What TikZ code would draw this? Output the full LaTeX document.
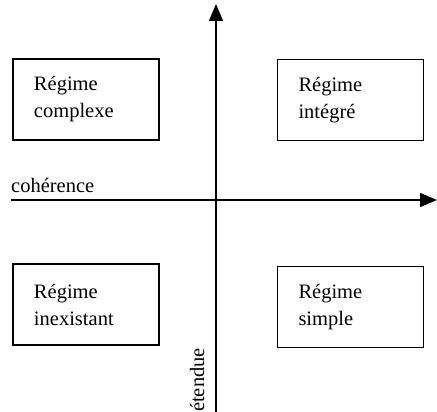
\documentclass[tikz,border=0pt]{standalone}
\usepackage{fontspec}
\setmainfont{Liberation Serif}
\usetikzlibrary{arrows.meta}
\tikzset{
  regime/.style={draw, line width=1.4pt, rectangle, align=left, text width=104pt,
    inner xsep=21pt, inner ysep=0pt, minimum height=81pt, font=\fontsize{20.5}{27}\selectfont},
  axis/.style={line width=1.4pt, -{Triangle[length=17pt,width=14pt]}},
  lbl/.style={inner sep=0pt, font=\fontsize{20.5}{25}\selectfont}
}
\begin{document}
\begin{tikzpicture}[x=1pt,y=-1pt]
\useasboundingbox (0,0) rectangle (437,412);
\node[regime] (complexe) at (86,99.5) {Régime\\complexe};
\node[regime] (integre) at (350.5,100) {Régime\\intégré};
\node[regime] (inexistant) at (86,304.5) {Régime\\inexistant};
\node[regime] (simple) at (350.5,307) {Régime\\simple};
\coordinate (hstart) at (11,200);
\coordinate (hend) at (437,200);
\coordinate (vstart) at (216,412);
\coordinate (vend) at (216,4);
\draw[axis] (hstart) -- (hend);
\draw[axis] (vstart) -- (vend);
\node[lbl, anchor=base west] (coherence) at (11,192) {cohérence};
\node[lbl, anchor=base west, rotate=90] (etendue) at (204,412) {étendue};
\end{tikzpicture}
\end{document}
